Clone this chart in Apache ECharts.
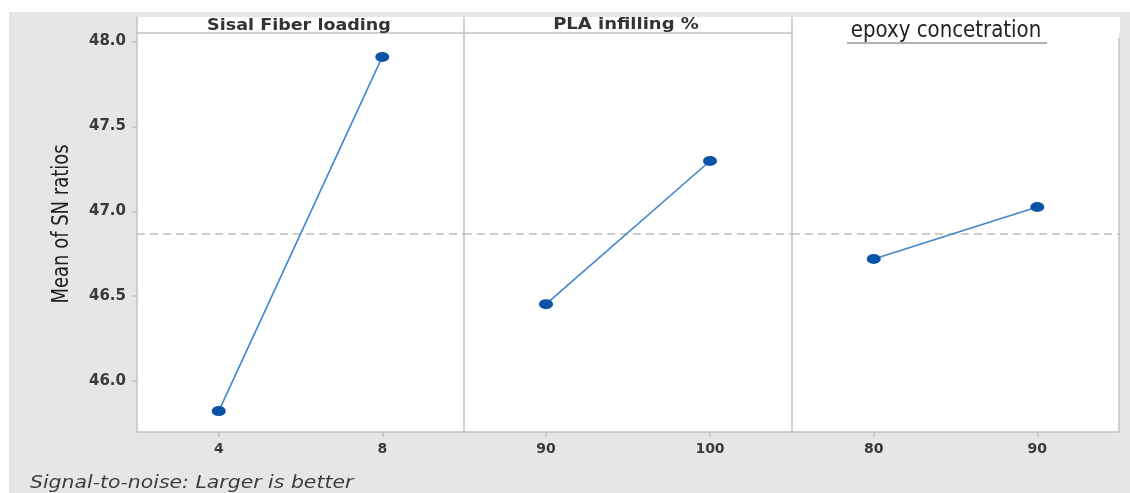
<!DOCTYPE html>
<html>
<head>
<meta charset="utf-8">
<script src="https://cdn.jsdelivr.net/npm/echarts@6/dist/echarts.min.js"></script>
<style>
html,body{margin:0;padding:0;background:#fff;}
#chart{width:1130px;height:493px;}
</style>
</head>
<body>
<div id="chart"></div>
<script>
// ---- data ----
const panelTitles = ['Sisal Fiber loading', 'PLA infilling %', 'epoxy concetration'];
const levels1 = ['4', '8'];
const levels2 = ['90', '100'];
const levels3 = ['80', '90'];
const snMeans1 = [45.823, 47.909];
const snMeans2 = [46.453, 47.296];
const snMeans3 = [46.719, 47.025];
const overallMean = 46.871;
const yTicks = [46.0, 46.5, 47.0, 47.5, 48.0];
const yName = 'Mean of SN ratios';
const footNote = 'Signal-to-noise: Larger is better';

// ---- layout ----
const panels = [[137, 464], [464, 792], [792, 1119]];
const plotTop = 33, plotBottom = 432, stripTop = 17;
const H = plotBottom - plotTop;
const levels = [levels1, levels2, levels3];
const values = [snMeans1, snMeans2, snMeans3];

const chart = echarts.init(document.getElementById('chart'));
const lineCol = '#c2c2c2';
const lblFont = { fontFamily: 'DejaVu Sans', fontWeight: 'bold', color: '#3a3a3a' };

const grids = panels.map(p => ({ left: p[0], top: plotTop, width: p[1] - p[0], height: H, show: true, backgroundColor: '#fff', borderWidth: 0 }));
const xAxes = levels.map((lv, i) => ({
  type: 'category', gridIndex: i, data: lv, boundaryGap: true,
  axisLine: { show: true, lineStyle: { color: lineCol, width: 1.5 } },
  axisTick: { show: true, alignWithLabel: true, length: 5, lineStyle: { color: lineCol, width: 1.5 } },
  axisLabel: Object.assign({ margin: 10, fontSize: 14 }, lblFont),
  splitLine: { show: false }
}));
const yAxes = panels.map((p, i) => ({
  type: 'value', gridIndex: i, min: 45.7, max: 48.05,
  axisLine: { show: true, lineStyle: { color: lineCol, width: 1.5 } },
  axisTick: i === 0 ? { show: true, length: 5, customValues: yTicks, lineStyle: { color: lineCol, width: 1.5 } } : { show: false },
  axisLabel: i === 0 ? Object.assign({ margin: 11, fontSize: 15, customValues: yTicks, formatter: v => v.toFixed(1) }, lblFont) : { show: false },
  splitLine: { show: false }
}));

const series = values.map((vals, i) => ({
  type: 'line', xAxisIndex: i, yAxisIndex: i, data: vals,
  symbol: 'circle', symbolSize: [14, 10], showSymbol: true,
  lineStyle: { color: '#4285cc', width: 1.6 },
  itemStyle: { color: '#0b53a6' },
  z: 5,
  markLine: {
    silent: true, symbol: 'none', label: { show: false },
    lineStyle: { color: '#bdbdbd', type: [8, 5], width: 1.5 },
    data: [{ yAxis: overallMean }], z: 3
  }
}));

const graphic = [
  { type: 'rect', z: -10, shape: { x: 9, y: 12, width: 1121, height: 481 }, style: { fill: '#e6e6e6' } },
  { type: 'rect', z: -5, shape: { x: panels[0][0], y: stripTop, width: panels[2][1] - panels[0][0] + 1, height: plotTop - stripTop }, style: { fill: '#fff' } },
  { type: 'line', shape: { x1: panels[0][0], y1: plotTop, x2: panels[1][1], y2: plotTop }, style: { stroke: lineCol, lineWidth: 1.5 } },
  { type: 'line', shape: { x1: panels[0][0], y1: stripTop, x2: panels[0][0], y2: plotTop }, style: { stroke: lineCol, lineWidth: 1.5 } },
  { type: 'line', shape: { x1: panels[1][0], y1: stripTop, x2: panels[1][0], y2: plotTop }, style: { stroke: lineCol, lineWidth: 1.5 } },
  { type: 'line', shape: { x1: panels[2][0], y1: stripTop, x2: panels[2][0], y2: plotTop }, style: { stroke: lineCol, lineWidth: 1.5 } },
  { type: 'line', shape: { x1: panels[2][1], y1: 38, x2: panels[2][1], y2: plotBottom }, style: { stroke: lineCol, lineWidth: 1.5 } },
  { type: 'text', x: 299, y: 26, scaleX: 1.17, style: { text: panelTitles[0], font: 'bold 15px "DejaVu Sans"', fill: '#333', textAlign: 'center', textVerticalAlign: 'middle' } },
  { type: 'text', x: 626, y: 25, scaleX: 1.2, style: { text: panelTitles[1], font: 'bold 15px "DejaVu Sans"', fill: '#333', textAlign: 'center', textVerticalAlign: 'middle' } },
  { type: 'text', x: 946, y: 31, scaleY: 1.05, style: { text: panelTitles[2], font: '22px "DejaVu Sans Condensed"', fill: '#222', textAlign: 'center', textVerticalAlign: 'middle' } },
  { type: 'line', shape: { x1: 847, y1: 43, x2: 1047, y2: 43 }, style: { stroke: '#999', lineWidth: 1.5 } },
  { type: 'text', x: 62, y: 224, rotation: Math.PI / 2, scaleY: 1.15, style: { text: yName, font: '20px "DejaVu Sans Condensed"', fill: '#222', textAlign: 'center', textVerticalAlign: 'middle' } },
  { type: 'text', x: 30, y: 484, scaleX: 1.2, style: { text: footNote, font: 'italic 17px "DejaVu Sans"', fill: '#3d3d3d', textAlign: 'left', textVerticalAlign: 'middle' } }
];

chart.setOption({
  animation: false,
  backgroundColor: '#fff',
  grid: grids, xAxis: xAxes, yAxis: yAxes, series: series, graphic: graphic
});
</script>
</body>
</html>
